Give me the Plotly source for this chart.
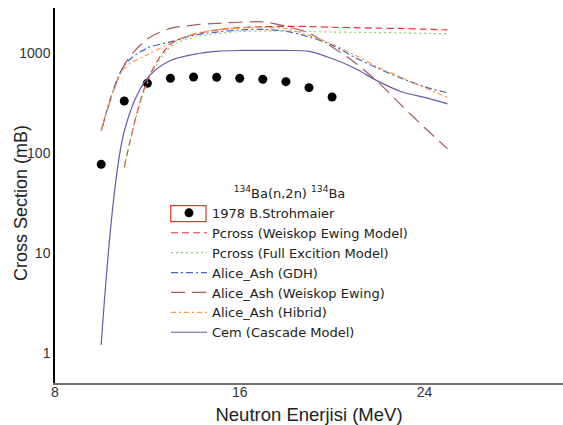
import plotly.graph_objects as go

# ---- data ----
exp_E = [10, 11, 12, 13, 14, 15, 16, 17, 18, 19, 20]
exp_sigma = [77, 331, 498, 558, 575, 571, 558, 546, 517, 450, 363]

E_full = [10, 11, 12, 13, 14, 15, 16, 17, 18, 19, 20, 21, 22, 23, 24, 25]
E_pcross = [11, 12, 13, 14, 15, 16, 17, 18, 19, 20, 21, 22, 23, 24, 25]

pcross_we = [72, 530, 1220, 1530, 1700, 1790, 1830, 1850, 1840, 1810, 1790, 1770, 1760, 1730, 1700]
pcross_full = [75, 500, 1150, 1430, 1560, 1640, 1660, 1660, 1640, 1620, 1610, 1600, 1590, 1570, 1560]
alice_gdh = [166, 750, 1120, 1290, 1500, 1620, 1700, 1720, 1650, 1450, 1200, 900, 700, 560, 460, 400]
alice_we = [166, 760, 1380, 1760, 1900, 1980, 2030, 2050, 1850, 1580, 1150, 800, 510, 300, 180, 110]
alice_hib = [166, 700, 960, 1250, 1550, 1700, 1780, 1800, 1750, 1500, 1230, 950, 720, 570, 450, 360]
cem = [1.2, 165, 560, 840, 970, 1040, 1060, 1060, 1060, 1040, 880, 700, 520, 410, 360, 310]

x_ticks = [8, 16, 24]
y_ticks = [1, 10, 100, 1000]
y_ticktext = ["1", "10", "100", "1000"]

fig = go.Figure()

fig.add_trace(go.Scatter(
    x=exp_E, y=exp_sigma, mode="markers", name="1978 B.Strohmaier",
    marker=dict(symbol="circle", size=9, color="black"),
))

models = [
    ("Pcross (Weiskop Ewing Model)", E_pcross, pcross_we, "#ee3333", "7px,4px"),
    ("Pcross (Full Excition Model)", E_pcross, pcross_full, "#8ccf66", "2px,3px"),
    ("Alice_Ash (GDH)", E_full, alice_gdh, "#4466bb", "7px,3px,2px,3px"),
    ("Alice_Ash (Weiskop Ewing)", E_full, alice_we, "#a85c5c", "14px,7px"),
    ("Alice_Ash (Hibrid)", E_full, alice_hib, "#ff9944", "5px,3px,2px,3px"),
    ("Cem (Cascade Model)", E_full, cem, "#6a5aad", "solid"),
]
for name, ex, vals, col, dash in models:
    fig.add_trace(go.Scatter(
        x=ex, y=vals, mode="lines", name=name,
        line=dict(color=col, width=1.2, dash=dash, shape="spline", smoothing=0.9),
    ))

L, T, B = 55, 8, 42
W, H = 563, 425
pw, ph = W - L, H - T - B

def px2paper(px, py):
    return (px - L) / pw, (H - B - py) / ph

bx0, by0 = px2paper(170.7, 221.7)
bx1, by1 = px2paper(206, 205.7)
fig.add_shape(type="rect", xref="paper", yref="paper", x0=bx0, x1=bx1, y0=by0, y1=by1,
              line=dict(color="#ee3333", width=1.2), fillcolor="rgba(0,0,0,0)")

lx, ly = px2paper(166, 181)
tx, ty = px2paper(21, 203)

fig.add_annotation(text="Cross Section (mB)", xref="paper", yref="paper", x=tx, y=ty,
                   xanchor="center", yanchor="middle", textangle=-90, showarrow=False,
                   font=dict(size=18, color="#222"))

fig.update_layout(
    width=W, height=H,
    margin=dict(l=L, r=0, t=T, b=B),
    paper_bgcolor="white", plot_bgcolor="white",
    font=dict(family="Liberation Sans, Arial, sans-serif", size=14, color="#222"),
    showlegend=True,
    legend=dict(
        x=lx, y=ly, xanchor="left", yanchor="top",
        bgcolor="rgba(0,0,0,0)", borderwidth=0,
        font=dict(family="DejaVu Sans", size=13, color="#222"),
        itemwidth=36,
        title=dict(text="<sup>134</sup>Ba(n,2n) <sup>134</sup>Ba", side="top center",
                   font=dict(family="DejaVu Sans", size=13, color="#222")),
        tracegroupgap=0,
    ),
    xaxis=dict(
        range=[8, 30], tickvals=x_ticks, ticks="", showgrid=False, zeroline=False,
        showline=True, linecolor="#707070", linewidth=1.5,
        tickfont=dict(size=14, color="#333"), ticklabelstandoff=-5,
        title=dict(text="Neutron Enerjisi (MeV)", font=dict(size=18.5, color="#222"), standoff=11),
    ),
    yaxis=dict(
        type="log", range=[-0.3, 3.45], tickvals=y_ticks, ticktext=y_ticktext,
        ticks="", showgrid=False, zeroline=False,
        showline=True, linecolor="black", linewidth=1.5,
        tickfont=dict(size=14, color="#333"),
    ),
)

fig.write_html("out.html")
